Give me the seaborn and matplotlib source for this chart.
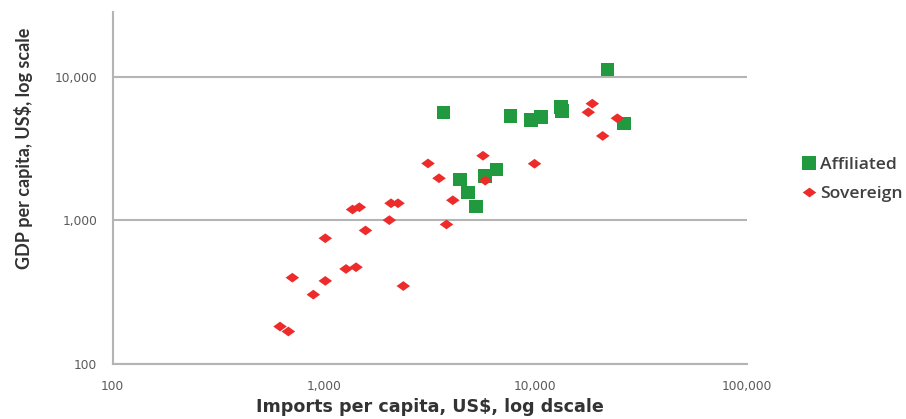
import numpy as np
import pandas as pd
import matplotlib
matplotlib.use("Agg")
import matplotlib.pyplot as plt
from matplotlib.path import Path
from matplotlib.ticker import FixedLocator, FuncFormatter, NullLocator
import seaborn as sns

# Imports and GDP per capita (US$) by territory status
affiliated_imports = [3670, 4400, 4800, 5240, 5780, 6550, 7650, 9540, 10640, 13230, 13370, 21900, 26280]
affiliated_gdp = [5620, 1930, 1570, 1250, 2040, 2270, 5330, 5000, 5250, 6160, 5770, 11190, 4710]

sovereign_imports = [620, 679, 709, 891, 1015, 1015, 1272, 1419, 1366, 1471, 1573, 2039, 2077,
                     2241, 2374, 3108, 3503, 3801, 4071, 5656, 5794, 9913, 17810, 18600, 20830, 24440]
sovereign_gdp = [183, 169, 400, 305, 752, 380, 460, 473, 1192, 1236, 852, 1005, 1317,
                 1317, 350, 2491, 1966, 938, 1382, 2818, 1891, 2480, 5654, 6490, 3870, 5137]

groups = ["Affiliated", "Sovereign"]
x_ticks = [100, 1000, 10000, 100000]
y_ticks = [100, 1000, 10000]

df = pd.DataFrame({
    "imports": affiliated_imports + sovereign_imports,
    "gdp": affiliated_gdp + sovereign_gdp,
    "status": [groups[0]] * len(affiliated_imports) + [groups[1]] * len(sovereign_imports),
})

sns.set_style("white")
plt.rcParams["font.family"] = ["DejaVu Sans"]

fig = plt.figure(figsize=(9.06, 4.19), dpi=100)
ax = fig.add_axes([0.1242, 0.1306, 0.7000, 0.8415])

# flattened diamond marker (wider than tall)
diamond = Path([(-1, 0), (0, 0.72), (1, 0), (0, -0.72), (-1, 0)],
               [Path.MOVETO, Path.LINETO, Path.LINETO, Path.LINETO, Path.CLOSEPOLY])

sns.scatterplot(data=df, x="imports", y="gdp", hue="status", style="status",
                hue_order=groups, style_order=groups,
                palette={"Affiliated": "#219a3f", "Sovereign": "#ee2b2b"},
                markers={"Affiliated": "s", "Sovereign": diamond},
                s=95, linewidth=0, edgecolor="none", ax=ax, zorder=3)

ax.set_xscale("log")
ax.set_yscale("log")
ax.set_xlim(100, 100000)
ax.set_ylim(100, 28300)

fmt = FuncFormatter(lambda v, p: f"{int(round(v)):,}")
ax.xaxis.set_major_locator(FixedLocator(x_ticks))
ax.yaxis.set_major_locator(FixedLocator(y_ticks))
ax.xaxis.set_minor_locator(NullLocator())
ax.yaxis.set_minor_locator(NullLocator())
ax.xaxis.set_major_formatter(fmt)
ax.yaxis.set_major_formatter(fmt)

axis_grey = "#b4b4b4"
ax.yaxis.grid(True, color=axis_grey, linewidth=1.5, zorder=0)
ax.xaxis.grid(False)
for side in ["top", "right"]:
    ax.spines[side].set_visible(False)
for side in ["left", "bottom"]:
    ax.spines[side].set_color(axis_grey)
    ax.spines[side].set_linewidth(1.5)
ax.tick_params(axis="both", which="major", length=5, width=1.2, color=axis_grey,
               labelsize=8.8, labelcolor="#5a5a5a", pad=6)

ax.set_xlabel("Imports per capita, US$, log dscale", family=["DejaVu Sans"],
              fontweight="bold", fontsize=12.6, color="#333333")
ax.set_ylabel("GDP per capita, US$, log scale", family=["Lato", "DejaVu Sans"],
              fontweight="bold", fontsize=13, color="#333333")
ax.xaxis.set_label_coords(0.5, -0.097)
ax.yaxis.set_label_coords(-0.125, 0.613)

handles, labels = ax.get_legend_handles_labels()
ax.legend(handles, labels, loc="center left", bbox_to_anchor=(0.886, 0.572),
          bbox_transform=fig.transFigure, frameon=False, borderpad=0, borderaxespad=0,
          handlelength=0.72, handletextpad=0.25, labelspacing=0.7,
          prop={"family": ["Open Sans", "DejaVu Sans"], "size": 12.6, "weight": "semibold"},
          labelcolor="#404040")

fig.savefig("out.png", dpi=100)
